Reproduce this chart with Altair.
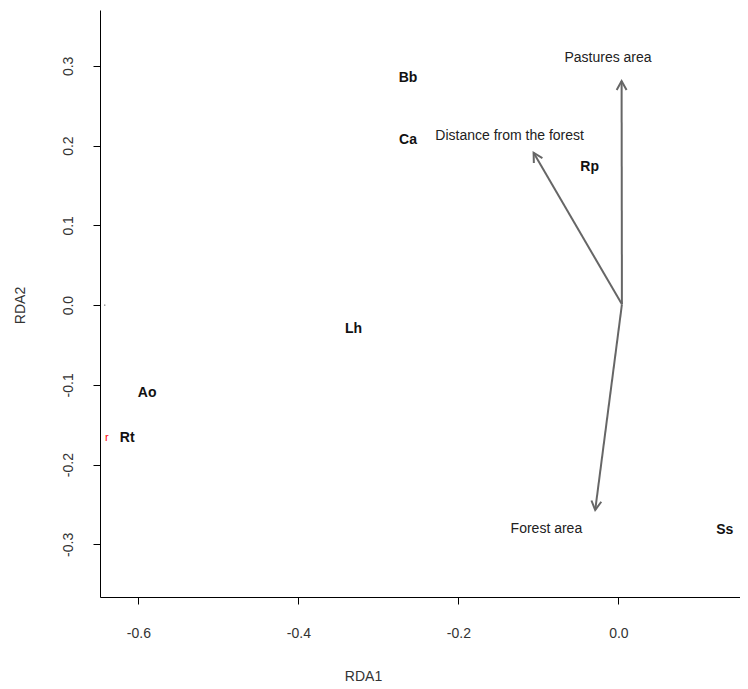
import math
import altair as alt
import pandas as pd

# ---- data ----
species = ["Bb", "Ca", "Rp", "Lh", "Ao", "Rt", "Ss"]
sp_x = [-0.263, -0.263, -0.036, -0.331, -0.589, -0.614, 0.133]
sp_y = [0.285, 0.207, 0.173, -0.030, -0.110, -0.167, -0.282]

env_names = ["Pastures area", "Distance from the forest", "Forest area"]
env_x = [0.004, -0.106, -0.029]
env_y = [0.281, 0.191, -0.257]
env_lab_x = [-0.013, -0.136, -0.090]
env_lab_y = [0.310, 0.212, -0.281]
origin_x, origin_y = 0.0044, 0.001

site_mark = ["r"]
site_x = [-0.6395]
site_y = [-0.167]

dot_x = [-0.642]
dot_y = [0.0]

x_ticks = [-0.6, -0.4, -0.2, 0.0]
y_ticks = [-0.3, -0.2, -0.1, 0.0, 0.1, 0.2, 0.3]
x_dom = [-0.648, 0.152]
y_dom = [-0.366, 0.370]

W, H = 640, 587

# pixels per unit, for arrowhead orientation
px_x = W / (x_dom[1] - x_dom[0])
px_y = H / (y_dom[1] - y_dom[0])

sp_df = pd.DataFrame({"name": species, "x": sp_x, "y": sp_y})
arr_df = pd.DataFrame({
    "name": env_names,
    "x0": [origin_x] * 3, "y0": [origin_y] * 3,
    "x": env_x, "y": env_y,
    "lx": env_lab_x, "ly": env_lab_y,
})
arr_df["ang"] = [
    (math.degrees(math.atan2((x - origin_x) * px_x, (y - origin_y) * px_y)) + 360) % 360
    for x, y in zip(env_x, env_y)
]
site_df = pd.DataFrame({"t": site_mark, "x": site_x, "y": site_y})
dot_df = pd.DataFrame({"x": dot_x, "y": dot_y})

fmt = "replace(format(datum.value, '.1f'), '\u2212', '-')"

xs = alt.Scale(domain=x_dom, nice=False, zero=False)
ys = alt.Scale(domain=y_dom, nice=False, zero=False)

x_axis = alt.Axis(values=x_ticks, labelExpr=fmt, grid=False, domainColor="black",
                  tickColor="black", tickSize=7, labelPadding=22, labelFontSize=14,
                  labelFont="Liberation Sans", labelColor="#333333",
                  title="RDA1", titleFont="Liberation Sans", titleFontSize=14,
                  titleFontWeight="normal", titleColor="#333333",
                  titleX=263, titleY=79, titleBaseline="middle", titleAlign="center")
y_axis = alt.Axis(values=y_ticks, labelExpr=fmt, grid=False, domainColor="black",
                  tickColor="black", tickSize=7, labelPadding=18, labelFontSize=14,
                  labelFont="Liberation Sans", labelColor="#333333",
                  labelAngle=270, labelAlign="center", labelBaseline="bottom",
                  title="RDA2", titleFont="Liberation Sans", titleFontSize=14,
                  titleFontWeight="normal", titleColor="#333333",
                  titleAngle=270, titleX=-80, titleY=295,
                  titleBaseline="middle", titleAlign="center")

base_axes = alt.Chart(dot_df).mark_point(size=2, filled=True, color="black").encode(
    x=alt.X("x:Q", scale=xs, axis=x_axis),
    y=alt.Y("y:Q", scale=ys, axis=y_axis),
)

shafts = alt.Chart(arr_df).mark_rule(color="#666666", strokeWidth=2).encode(
    x=alt.X("x0:Q", scale=xs), y=alt.Y("y0:Q", scale=ys),
    x2="x:Q", y2="y:Q",
)

heads = alt.Chart(arr_df).mark_point(
    shape="M -0.55 1 L 0 0 L 0.55 1", size=324, filled=False,
    color="#666666", strokeWidth=2, opacity=1,
).encode(
    x=alt.X("x:Q", scale=xs), y=alt.Y("y:Q", scale=ys),
    angle=alt.Angle("ang:Q", scale=None),
)

env_text = alt.Chart(arr_df).mark_text(
    font="Liberation Sans", fontSize=14, color="#222222",
).encode(
    x=alt.X("lx:Q", scale=xs), y=alt.Y("ly:Q", scale=ys), text="name:N",
)

sp_text = alt.Chart(sp_df).mark_text(
    font="Liberation Sans", fontSize=14, fontWeight="bold", color="#111111",
).encode(
    x=alt.X("x:Q", scale=xs), y=alt.Y("y:Q", scale=ys), text="name:N",
)

site_text = alt.Chart(site_df).mark_text(
    font="Liberation Sans", fontSize=11, color="red",
).encode(
    x=alt.X("x:Q", scale=xs), y=alt.Y("y:Q", scale=ys), text="t:N",
)

chart = alt.layer(base_axes, shafts, heads, env_text, sp_text, site_text).properties(
    width=W, height=H,
    autosize=alt.AutoSizeParams(type="none"),
    padding={"left": 92, "top": 2, "right": 0, "bottom": 90},
    background="white",
).configure_view(stroke=None)

chart.save("out.html", embed_options={"renderer": "svg", "actions": False})
